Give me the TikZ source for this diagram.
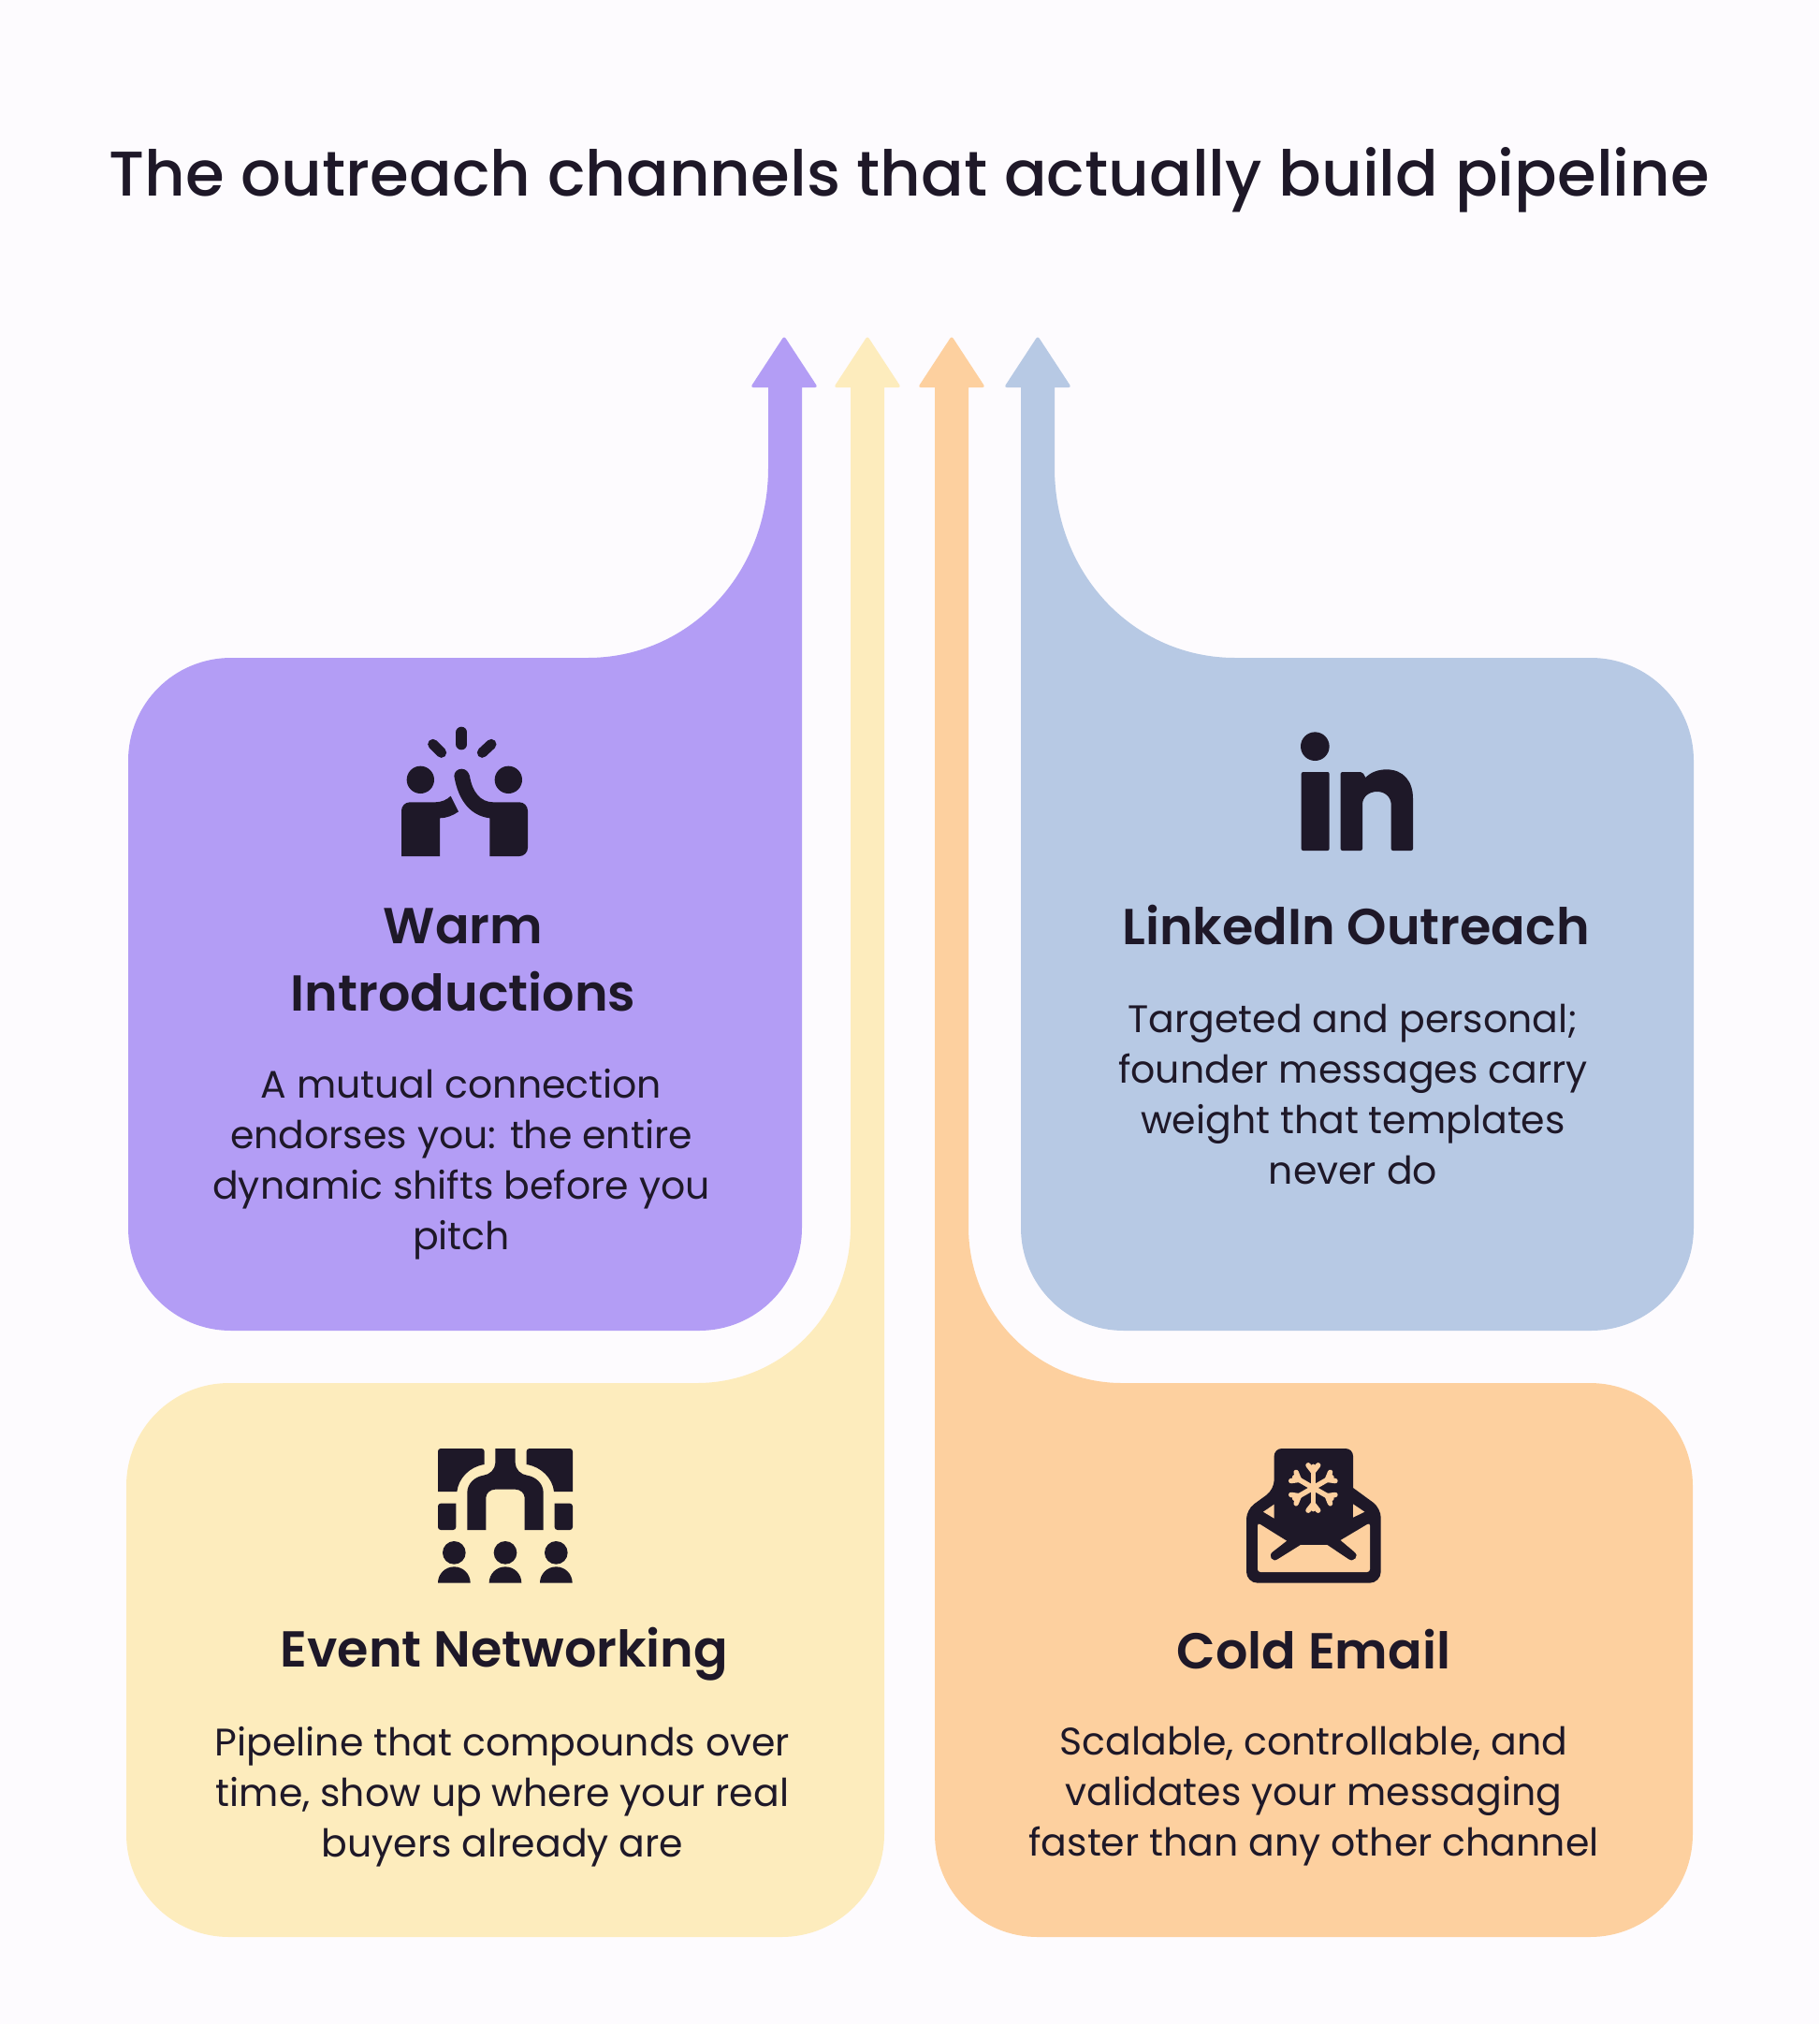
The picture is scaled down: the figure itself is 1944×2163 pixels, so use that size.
\documentclass[tikz,border=0pt]{standalone}
\usepackage{fontspec}
\usetikzlibrary{calc}
\setmainfont{Poppins}[BoldFont={Poppins SemiBold}]
\newfontfamily\titlefont{Poppins Medium}
\definecolor{bgc}{HTML}{FDFBFE}
\definecolor{ink}{HTML}{1E1828}
\definecolor{purp}{HTML}{B39DF5}
\definecolor{yell}{HTML}{FDECBD}
\definecolor{oran}{HTML}{FDD09F}
\definecolor{blu}{HTML}{B7C9E4}
\tikzset{
  headingtext/.style={text=ink,align=center,inner sep=0pt,font={\bfseries\fontsize{54}{72}\selectfont}},
  bodytext/.style={text=ink,align=center,inner sep=0pt,font={\fontsize{41}{54}\selectfont}},
  iconpart/.style={shift={#1},x=0.33333pt,y=-0.33333pt}
}
\begin{document}
\begin{tikzpicture}[x=1pt,y=-1pt]
\useasboundingbox (0,0) rectangle (1944,2163);
\fill[bgc] (0,0) rectangle (1944,2163);
\node[text=ink,inner sep=0pt,font={\titlefont\fontsize{67.5}{78}\selectfont}] (title) at (972,192) {The outreach channels that actually build pipeline};
% purple
\fill[purp] (857,414) [rounded corners=3pt] -- (874,414) -- (838,359) -- (802,414) [sharp corners] -- (821,414) -- (821,500) .. controls (821,615) and (735,703) .. (628,703) -- (247,703) .. controls (186,703) and (137,752) .. (137,813) -- (137,1312) .. controls (137,1373) and (186,1422) .. (247,1422) -- (747,1422) .. controls (808,1422) and (857,1373) .. (857,1312) -- cycle;
% yellow
\fill[yell] (945,414) [rounded corners=3pt] -- (963,414) -- (927,359) -- (891,414) [sharp corners] -- (909,414) -- (909,1311) .. controls (909,1405) and (835,1478) .. (745,1478) -- (245,1478) .. controls (184,1478) and (135,1527) .. (135,1588) -- (135,1960) .. controls (135,2021) and (184,2070) .. (245,2070) -- (835,2070) .. controls (896,2070) and (945,2021) .. (945,1960) -- cycle;
% orange
\fill[oran] (999,414) [rounded corners=3pt] -- (981,414) -- (1017,359) -- (1053,414) [sharp corners] -- (1035,414) -- (1035,1311) .. controls (1035,1405) and (1109,1478) .. (1199,1478) -- (1699,1478) .. controls (1760,1478) and (1809,1527) .. (1809,1588) -- (1809,1960) .. controls (1809,2021) and (1760,2070) .. (1699,2070) -- (1109,2070) .. controls (1048,2070) and (999,2021) .. (999,1960) -- cycle;
% blue
\fill[blu] (1091,414) [rounded corners=3pt] -- (1073,414) -- (1109,359) -- (1145,414) [sharp corners] -- (1127,414) -- (1127,500) .. controls (1127,615) and (1213,703) .. (1320,703) -- (1700,703) .. controls (1761,703) and (1810,752) .. (1810,813) -- (1810,1312) .. controls (1810,1373) and (1761,1422) .. (1700,1422) -- (1201,1422) .. controls (1140,1422) and (1091,1373) .. (1091,1312) -- cycle;
% texts
\node[headingtext] (h1) at (495,1026) {Warm\\Introductions};
\node[bodytext] (b1) at (493,1244) {A mutual connection\\endorses you: the entire\\dynamic shifts before you\\pitch};
\node[headingtext] (h2) at (1449,989) {LinkedIn Outreach};
\node[bodytext] (b2) at (1446,1169) {Targeted and personal;\\founder messages carry\\weight that templates\\never do};
\node[headingtext] (h3) at (539,1768) {Event Networking};
\node[bodytext] (b3) at (537,1920) {Pipeline that compounds over\\time, show up where your real\\buyers already are};
\node[headingtext] (h4) at (1404,1763) {Cold Email};
\node[bodytext] (b4) at (1404,1920) {Scalable, controllable, and\\validates your messaging\\faster than any other channel};
% high five icon
\begin{scope}[iconpart={(410,760)}]
\fill[ink] (118,220) circle[radius=44];
\fill[ink] (400,220) circle[radius=44];
\draw[ink,line width=12pt,line cap=round] (250,68) -- (250,106);
\draw[ink,line width=11pt,line cap=round] (158,106) -- (185,133);
\draw[ink,line width=11pt,line cap=round] (345,106) -- (316,133);
\fill[ink] (57,465) [rounded corners=9pt] -- (57,292) [sharp corners] -- (165,292) .. controls (185,292) and (203,284) .. (215,272) -- (240,322) .. controls (222,335) and (200,343) .. (180,343) -- (180,465) -- cycle;
\fill[ink] (226,208) .. controls (226,194) and (238,185) .. (250,185) .. controls (264,185) and (273,196) .. (276,208) .. controls (284,258) and (310,292) .. (352,292) [rounded corners=9pt] -- (462,292) -- (462,465) [sharp corners] -- (340,465) -- (340,343) .. controls (280,335) and (240,290) .. (226,208) -- cycle;
\end{scope}
% linkedin icon
\begin{scope}[iconpart={(1370,770)}]
\fill[ink] (106,83) circle[radius=46];
\fill[ink,rounded corners=2pt] (62,165) rectangle (152,417);
\fill[ink] (188,170) [rounded corners=2pt] -- (188,165) -- (258,165) [sharp corners] -- (268,183) .. controls (285,165) and (310,157) .. (335,157) .. controls (390,157) and (420,195) .. (420,250) [rounded corners=2pt] -- (420,417) -- (350,417) [sharp corners] -- (350,270) .. controls (350,245) and (330,228) .. (305,228) .. controls (278,228) and (258,245) .. (258,270) [rounded corners=2pt] -- (258,417) -- (188,417) [sharp corners] -- cycle;
\end{scope}
% event icon
\begin{scope}[iconpart={(450,1530)}]
\fill[ink] (54,120) [rounded corners=3pt] -- (54,54) -- (203,54) [sharp corners] -- (203,105) .. controls (155,112) and (120,150) .. (115,192) -- (54,192) -- cycle;
\fill[ink] (486,120) [rounded corners=3pt] -- (486,54) -- (338,54) [sharp corners] -- (338,105) .. controls (385,112) and (422,150) .. (426,192) -- (486,192) -- cycle;
\fill[ink] (238,54) -- (302,54) -- (302,100) .. controls (302,120) and (320,138) .. (340,140) .. controls (370,145) and (392,168) .. (392,195) -- (392,315) -- (332,315) -- (332,212) .. controls (332,197) and (318,185) .. (302,185) -- (238,185) .. controls (222,185) and (208,197) .. (208,212) -- (208,315) -- (148,315) -- (148,195) .. controls (148,168) and (170,145) .. (200,140) .. controls (220,138) and (238,120) .. (238,100) -- cycle;
\fill[ink] (80,230) [rounded corners=3pt] -- (54,230) -- (54,315) -- (112,315) [sharp corners] -- (112,230) -- cycle;
\fill[ink] (460,230) [rounded corners=3pt] -- (486,230) -- (486,315) -- (428,315) [sharp corners] -- (428,230) -- cycle;
\foreach \cx in {106,270,433} {
  \fill[ink] (\cx,388) circle[radius=37];
  \fill[ink] (\cx-52,485) .. controls (\cx-52,456) and (\cx-29,433) .. (\cx,433) .. controls (\cx+29,433) and (\cx+52,456) .. (\cx+52,485) -- cycle;
}
\end{scope}
% email icon
\begin{scope}[iconpart={(1310,1530)}]
\fill[ink] (66,300) [rounded corners=10pt] -- (66,250) -- (155,185) [sharp corners] -- (155,100) [rounded corners=8pt] -- (155,54) -- (408,54) [sharp corners] -- (408,180) [rounded corners=10pt] -- (497,245) [rounded corners=12pt] -- (497,485) -- (66,485) [sharp corners] -- cycle;
\fill[oran] (155,233) -- (120,257) -- (155,278) -- cycle;
\fill[oran] (408,232) -- (445,257) -- (408,275) -- cycle;
\fill[oran] (102,400) [rounded corners=3pt] -- (102,292) [sharp corners] -- (195,350) -- (150,385) .. controls (133,398) and (150,422) .. (168,408) -- (240,363) -- (325,363) -- (392,408) .. controls (410,422) and (430,398) .. (412,385) -- (368,348) [rounded corners=3pt] -- (462,292) -- (462,450) -- (102,450) [sharp corners] -- cycle;
\foreach \a in {90,150,210,270,330,30} {
  \draw[oran,line width=5.5pt,line cap=round,line join=round] (280,180) -- ++({\a}:68);
  \draw[oran,line width=5.5pt,line cap=round,line join=round] ($(280,180)+({\a}:52)$) -- ++({\a+38}:26);
  \draw[oran,line width=5.5pt,line cap=round,line join=round] ($(280,180)+({\a}:52)$) -- ++({\a-38}:26);
}
\end{scope}
\end{tikzpicture}
\end{document}
